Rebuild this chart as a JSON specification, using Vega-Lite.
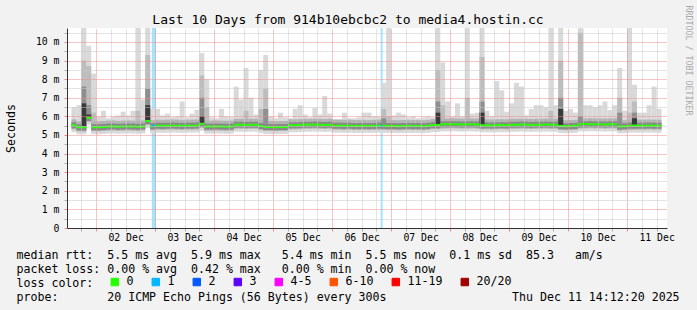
{
  "$schema": "https://vega.github.io/schema/vega-lite/v6.json",
  "width": 600,
  "height": 200,
  "autosize": {"type": "none"},
  "padding": {"left": 67, "top": 28, "right": 30, "bottom": 82},
  "background": "#f2f2f2",
  "config": {
    "view": {"fill": "#ffffff", "stroke": null},
    "font": "DejaVu Sans Mono",
    "axis": {"labelFont": "DejaVu Sans Mono", "titleFont": "DejaVu Sans Mono", "labelColor": "#000000", "titleColor": "#000000", "titleFontWeight": "normal"},
    "legend": {"labelFont": "DejaVu Sans Mono", "titleFont": "DejaVu Sans Mono"}
  },
  "resolve": {"axis": {"x": "independent", "y": "independent"}},
  "datasets": {
    "loss": [
      {"s": 46.67, "e": 48.33, "loss": "1", "md": 5.5},
      {"s": 139.75, "e": 140.58, "loss": "1", "md": 5.5}
    ],
    "smoke": [
      {"h": 15, "hi": 6.5, "md": 5.52},
      {"h": 17, "hi": 6.6, "md": 5.41},
      {"h": 19, "hi": 11, "md": 5.41, "m": 9.0, "d": 7.6, "k": 6.7},
      {"h": 21, "hi": 9.8, "md": 5.93, "m": 8.7, "d": 6.6, "k": 6.1},
      {"h": 23, "hi": 8.3, "md": 5.42, "m": 6.2},
      {"h": 25, "hi": 6.0, "md": 5.41},
      {"h": 27, "hi": 6.3, "md": 5.43},
      {"h": 29, "hi": 5.9, "md": 5.45},
      {"h": 31, "hi": 6.0, "md": 5.46},
      {"h": 33, "hi": 6.05, "md": 5.44},
      {"h": 35, "hi": 6.25, "md": 5.45},
      {"h": 37, "hi": 6.05, "md": 5.46},
      {"h": 39, "hi": 6.3, "md": 5.45},
      {"h": 41, "hi": 11, "md": 5.44, "m": 6.3},
      {"h": 43, "hi": 6.9, "md": 5.46},
      {"h": 45, "hi": 11, "md": 5.75, "m": 9.3, "d": 7.5, "k": 6.6},
      {"h": 47, "hi": 6.4, "md": 5.47},
      {"h": 49, "hi": 6.4, "md": 5.5},
      {"h": 51, "hi": 6.05, "md": 5.49},
      {"h": 53, "hi": 6.15, "md": 5.5},
      {"h": 55, "hi": 5.95, "md": 5.51},
      {"h": 57, "hi": 6.0, "md": 5.5},
      {"h": 59, "hi": 6.8, "md": 5.49},
      {"h": 61, "hi": 5.95, "md": 5.5},
      {"h": 63, "hi": 6.15, "md": 5.5},
      {"h": 65, "hi": 6.35, "md": 5.51},
      {"h": 67, "hi": 9.4, "md": 5.6, "m": 8.2, "d": 7.0, "k": 6.0},
      {"h": 69, "hi": 8.0, "md": 5.45, "m": 6.5},
      {"h": 71, "hi": 5.95, "md": 5.45},
      {"h": 73, "hi": 5.9, "md": 5.46},
      {"h": 75, "hi": 6.4, "md": 5.45},
      {"h": 77, "hi": 6.0, "md": 5.44},
      {"h": 79, "hi": 5.95, "md": 5.45},
      {"h": 81, "hi": 7.6, "md": 5.55},
      {"h": 83, "hi": 6.9, "md": 5.55},
      {"h": 85, "hi": 8.6, "md": 5.54, "m": 6.3},
      {"h": 87, "hi": 7.0, "md": 5.55},
      {"h": 89, "hi": 6.1, "md": 5.55},
      {"h": 91, "hi": 8.5, "md": 5.48, "m": 6.4},
      {"h": 93, "hi": 9.3, "md": 5.43, "m": 7.5, "d": 6.4},
      {"h": 95, "hi": 6.0, "md": 5.43},
      {"h": 97, "hi": 5.9, "md": 5.42},
      {"h": 99, "hi": 6.2, "md": 5.43},
      {"h": 101, "hi": 5.95, "md": 5.43},
      {"h": 103, "hi": 5.9, "md": 5.52},
      {"h": 105, "hi": 6.4, "md": 5.52},
      {"h": 107, "hi": 6.6, "md": 5.53},
      {"h": 109, "hi": 6.1, "md": 5.55},
      {"h": 111, "hi": 5.95, "md": 5.55},
      {"h": 113, "hi": 6.45, "md": 5.56},
      {"h": 115, "hi": 6.1, "md": 5.55},
      {"h": 117, "hi": 7.1, "md": 5.54},
      {"h": 119, "hi": 6.15, "md": 5.55},
      {"h": 121, "hi": 5.85, "md": 5.5},
      {"h": 123, "hi": 5.85, "md": 5.5},
      {"h": 125, "hi": 6.2, "md": 5.49},
      {"h": 127, "hi": 5.9, "md": 5.5},
      {"h": 129, "hi": 5.9, "md": 5.48},
      {"h": 131, "hi": 5.95, "md": 5.48},
      {"h": 133, "hi": 6.2, "md": 5.49},
      {"h": 135, "hi": 6.2, "md": 5.48},
      {"h": 137, "hi": 6.0, "md": 5.49},
      {"h": 139, "hi": 6.0, "md": 5.5},
      {"h": 141, "hi": 7.8, "md": 5.5, "m": 6.4, "d": 5.9},
      {"h": 143, "hi": 11, "md": 5.48, "m": 6.0},
      {"h": 145, "hi": 6.05, "md": 5.48},
      {"h": 147, "hi": 6.2, "md": 5.47},
      {"h": 149, "hi": 6.1, "md": 5.48},
      {"h": 151, "hi": 5.95, "md": 5.49},
      {"h": 153, "hi": 6.0, "md": 5.48},
      {"h": 155, "hi": 5.9, "md": 5.48},
      {"h": 157, "hi": 5.95, "md": 5.47},
      {"h": 159, "hi": 6.0, "md": 5.49},
      {"h": 161, "hi": 5.95, "md": 5.53},
      {"h": 163, "hi": 11, "md": 5.53, "m": 8.5, "d": 6.8, "k": 6.2},
      {"h": 165, "hi": 8.9, "md": 5.57, "m": 6.6},
      {"h": 167, "hi": 6.8, "md": 5.57},
      {"h": 169, "hi": 6.0, "md": 5.58},
      {"h": 171, "hi": 6.7, "md": 5.57},
      {"h": 173, "hi": 6.0, "md": 5.56},
      {"h": 175, "hi": 11, "md": 5.57, "m": 7.0},
      {"h": 177, "hi": 6.15, "md": 5.57},
      {"h": 179, "hi": 6.2, "md": 5.56},
      {"h": 181, "hi": 11, "md": 5.52, "m": 9.2, "d": 6.8, "k": 6.2},
      {"h": 183, "hi": 6.3, "md": 5.52},
      {"h": 185, "hi": 6.0, "md": 5.51},
      {"h": 187, "hi": 7.9, "md": 5.52},
      {"h": 189, "hi": 7.4, "md": 5.53},
      {"h": 191, "hi": 6.25, "md": 5.52},
      {"h": 193, "hi": 6.7, "md": 5.55},
      {"h": 195, "hi": 7.8, "md": 5.55},
      {"h": 197, "hi": 7.6, "md": 5.56},
      {"h": 199, "hi": 6.05, "md": 5.55},
      {"h": 201, "hi": 6.4, "md": 5.54},
      {"h": 203, "hi": 6.6, "md": 5.55},
      {"h": 205, "hi": 6.6, "md": 5.55},
      {"h": 207, "hi": 6.5, "md": 5.56},
      {"h": 209, "hi": 11, "md": 5.55, "m": 6.3},
      {"h": 211, "hi": 6.6, "md": 5.55},
      {"h": 213, "hi": 11, "md": 5.48, "m": 9.0, "d": 7.0, "k": 6.4},
      {"h": 215, "hi": 6.3, "md": 5.47},
      {"h": 217, "hi": 6.4, "md": 5.48},
      {"h": 219, "hi": 6.2, "md": 5.49},
      {"h": 221, "hi": 11, "md": 5.57, "m": 10.5, "d": 6.0},
      {"h": 223, "hi": 6.6, "md": 5.57},
      {"h": 225, "hi": 6.6, "md": 5.58},
      {"h": 227, "hi": 6.5, "md": 5.57},
      {"h": 229, "hi": 6.6, "md": 5.57},
      {"h": 231, "hi": 6.8, "md": 5.56},
      {"h": 233, "hi": 6.35, "md": 5.57},
      {"h": 235, "hi": 6.6, "md": 5.57},
      {"h": 237, "hi": 8.6, "md": 5.46, "m": 7.0, "d": 6.2},
      {"h": 239, "hi": 6.3, "md": 5.47},
      {"h": 241, "hi": 11, "md": 5.5, "m": 6.2},
      {"h": 243, "hi": 7.7, "md": 5.51, "m": 6.8, "d": 6.2, "k": 5.9},
      {"h": 245, "hi": 6.2, "md": 5.5},
      {"h": 247, "hi": 6.2, "md": 5.5},
      {"h": 249, "hi": 6.6, "md": 5.51},
      {"h": 251, "hi": 7.6, "md": 5.5},
      {"h": 253, "hi": 6.4, "md": 5.5}
    ]
  },
  "layer": [
    {
      "data": {"name": "loss"},
      "mark": {"type": "rect", "opacity": 0.36},
      "encoding": {
        "x": {
          "field": "s", "type": "quantitative",
          "scale": {"domain": [14.2056, 254.2056], "nice": false, "zero": false},
          "axis": {
            "orient": "bottom",
            "values": [18, 24, 30, 36, 42, 48, 54, 60, 66, 72, 78, 84, 90, 96, 102, 108, 114, 120, 126, 132, 138, 144, 150, 156, 162, 168, 174, 180, 186, 192, 198, 204, 210, 216, 222, 228, 234, 240, 246, 252],
            "labelExpr": "datum.value % 24 == 12 ? (((datum.value - 12) / 24 + 1) < 10 ? '0' : '') + ((datum.value - 12) / 24 + 1) + ' Dec' : ''",
            "labelFontSize": 9.8, "labelPadding": 1, "labelOverlap": false, "labelFlush": false, "labelBound": false,
            "grid": true,
            "gridColor": {"condition": {"test": "datum.value % 24 == 0", "value": "#f08a8a"}, "value": "#c8c8c8"},
            "gridDash": [1, 1],
            "ticks": true, "tickSize": 3,
            "tickColor": {"condition": {"test": "datum.value % 24 == 0", "value": "#f08a8a"}, "value": "#b0b0b0"},
            "domainColor": "#333333",
            "zindex": 1,
            "title": [
              "median rtt:\u00a0\u00a05.5 ms avg\u00a0\u00a05.9 ms max\u00a0\u00a0\u00a05.4 ms min\u00a0\u00a05.5 ms now\u00a0\u00a00.1 ms sd\u00a0\u00a085.3\u00a0\u00a0\u00a0am/s",
              "packet loss: 0.00 % avg\u00a0\u00a00.42 % max\u00a0\u00a0\u00a00.00 % min\u00a0\u00a00.00 % now",
              "loss color:",
              "probe:\u00a0\u00a0\u00a0\u00a0\u00a0\u00a0\u00a020 ICMP Echo Pings (56 Bytes) every 300s\u00a0\u00a0\u00a0\u00a0\u00a0\u00a0\u00a0\u00a0\u00a0\u00a0\u00a0\u00a0\u00a0\u00a0\u00a0\u00a0\u00a0\u00a0Thu Dec 11 14:12:20 2025"
            ],
            "titleX": -51, "titleY": 30, "titleAlign": "left", "titleAnchor": "start", "titleBaseline": "alphabetic",
            "titleFontSize": 11.6, "titleLineHeight": 14
          }
        },
        "x2": {"field": "e"},
        "color": {
          "field": "loss", "type": "nominal",
          "scale": {
            "domain": ["0", "1", "2", "3", "4-5", "6-10", "11-19", "20/20"],
            "range": ["#26ff00", "#00b8ff", "#0059ff", "#5e00ff", "#ff00ff", "#ff5500", "#ff0000", "#a10000"]
          },
          "legend": {
            "orient": "none", "legendX": 42, "legendY": 248,
            "direction": "horizontal",
            "title": null,
            "labelFontSize": 11.6, "labelColor": "#000000", "labelOffset": 6,
            "columnPadding": 16,
            "symbolType": "square", "symbolSize": 56, "symbolStrokeColor": "#000000", "symbolStrokeWidth": 1, "symbolOpacity": 1,
            "padding": 0
          }
        }
      }
    },
    {
      "data": {"name": "smoke"},
      "mark": {"type": "bar", "color": "#d9d9d9", "clip": true, "width": 5, "y2Offset": 7},
      "encoding": {
        "x": {"field": "h", "type": "quantitative", "axis": null},
        "y": {
          "field": "hi", "type": "quantitative",
          "scale": {"domain": [0, 10.75], "nice": false},
          "axis": {
            "orient": "left",
            "values": [0, 0.5, 1, 1.5, 2, 2.5, 3, 3.5, 4, 4.5, 5, 5.5, 6, 6.5, 7, 7.5, 8, 8.5, 9, 9.5, 10, 10.5],
            "labelExpr": "datum.value % 1 == 0 ? (datum.value == 0 ? '0' : datum.value + ' m') : ''",
            "labelFontSize": 9.8, "labelPadding": 5, "labelOverlap": false, "labelBound": false,
            "grid": true,
            "gridColor": {"condition": {"test": "datum.value % 1 == 0", "value": "#f08a8a"}, "value": "#c8c8c8"},
            "gridDash": [1, 1],
            "tickSize": 3,
            "tickColor": {"condition": {"test": "datum.value % 1 == 0", "value": "#f08a8a"}, "value": "#b0b0b0"},
            "domainColor": "#333333",
            "zindex": 1,
            "title": "Seconds", "titleFontSize": 11.6, "titlePadding": 18.5
          }
        },
        "y2": {"field": "md"}
      }
    },
    {
      "data": {"name": "smoke"},
      "mark": {"type": "bar", "color": "#bdbdbd", "clip": true, "width": 5, "y2Offset": 4},
      "encoding": {
        "x": {"field": "h", "type": "quantitative", "axis": null},
        "y": {"field": "m", "type": "quantitative", "axis": null},
        "y2": {"field": "md"}
      }
    },
    {
      "data": {"name": "smoke"},
      "mark": {"type": "bar", "color": "#b3b3b3", "clip": true, "width": 5, "yOffset": -6, "y2Offset": 4},
      "encoding": {
        "x": {"field": "h", "type": "quantitative", "axis": null},
        "y": {"field": "md", "type": "quantitative", "axis": null},
        "y2": {"field": "md"}
      }
    },
    {
      "data": {"name": "smoke"},
      "mark": {"type": "bar", "color": "#8f8f8f", "clip": true, "width": 5, "y2Offset": 3},
      "encoding": {
        "x": {"field": "h", "type": "quantitative", "axis": null},
        "y": {"field": "d", "type": "quantitative", "axis": null},
        "y2": {"field": "md"}
      }
    },
    {
      "data": {"name": "smoke"},
      "mark": {"type": "bar", "color": "#888888", "clip": true, "width": 5, "yOffset": -3, "y2Offset": 3},
      "encoding": {
        "x": {"field": "h", "type": "quantitative", "axis": null},
        "y": {"field": "md", "type": "quantitative", "axis": null},
        "y2": {"field": "md"}
      }
    },
    {
      "data": {"name": "smoke"},
      "mark": {"type": "bar", "color": "#3a3a3a", "clip": true, "width": 5},
      "encoding": {
        "x": {"field": "h", "type": "quantitative", "axis": null},
        "y": {"field": "k", "type": "quantitative", "axis": null},
        "y2": {"field": "md"}
      }
    },
    {
      "data": {"name": "smoke"},
      "mark": {"type": "bar", "filled": false, "strokeWidth": 2, "clip": true, "width": 5, "color": "#26ff00"},
      "encoding": {
        "x": {
          "field": "h", "type": "quantitative",
          "axis": {
            "orient": "top", "labels": false, "ticks": false, "domain": false, "grid": false,
            "title": "Last 10 Days from 914b10ebcbc2 to media4.hostin.cc",
            "titleFontSize": 13, "titleX": 280.5, "titleY": -5, "titleAlign": "center", "titleBaseline": "alphabetic"
          }
        },
        "y": {
          "field": "md", "type": "quantitative",
          "axis": {
            "orient": "right", "labels": false, "ticks": false, "domain": false, "grid": false,
            "title": "RRDTOOL / TOBI OETIKER",
            "titleAngle": 90, "titleX": 20.5, "titleY": 32, "titleAlign": "center", "titleBaseline": "middle",
            "titleFontSize": 8.3, "titleColor": "#a9a9a9"
          }
        },
        "y2": {"field": "md"}
      }
    },
    {
      "data": {"name": "loss"},
      "mark": {"type": "bar", "filled": false, "strokeWidth": 2, "clip": true},
      "encoding": {
        "x": {"field": "s", "type": "quantitative", "axis": null},
        "x2": {"field": "e"},
        "y": {"field": "md", "type": "quantitative", "axis": null},
        "y2": {"field": "md"},
        "color": {"field": "loss", "type": "nominal", "legend": null}
      }
    }
  ]
}
